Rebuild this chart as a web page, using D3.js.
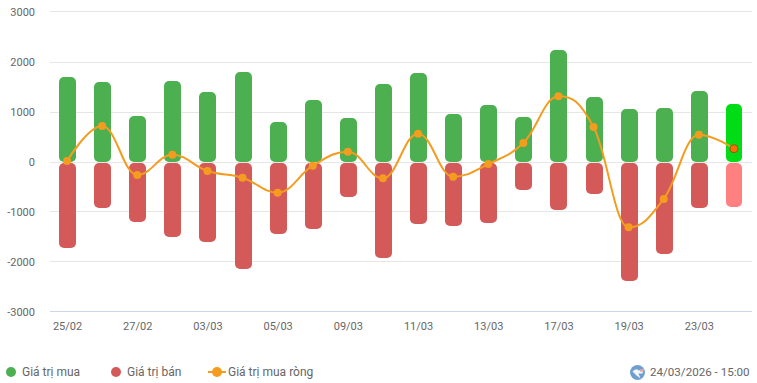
<!DOCTYPE html>
<html>
<head>
<meta charset="utf-8">
<script src="https://cdn.jsdelivr.net/npm/d3@7"></script>
<style>
  html, body { margin: 0; padding: 0; background: #fff; }
  svg { display: block; font-family: Roboto, sans-serif; }
</style>
</head>
<body>
<div id="chart"></div>
<script>
// ========= DATA =========
const days = ["25/02","26/02","27/02","02/03","03/03","04/03","05/03","06/03","09/03","10/03",
  "11/03","12/03","13/03","16/03","17/03","18/03","19/03","20/03","23/03","24/03"];
const buyValues = [1706,1606,926,1626,1406,1806,806,1246,886,1566,1786,966,1146,906,2246,1306,1066,1086,1426,1160];
const sellValues = [-1708,-914,-1194,-1494,-1594,-2134,-1434,-1334,-694,-1914,-1234,-1274,-1214,-554,-954,-634,-2370,-1840,-907,-900];
const netValues = [26,726,-254,152,-174,-308,-608,-68,212,-320,572,-288,-34,386,1320,706,-1300,-734,552,272];
const yTicks = [3000,2000,1000,0,-1000,-2000,-3000];
const legendNames = ["Giá trị mua","Giá trị bán","Giá trị mua ròng"];
const stamp = "24/03/2026 - 15:00";

const width = 757, height = 383;
const green = "#4caf50", red = "#d45a5a", orange = "#f39c1f", textColor = "#666666";

const svg = d3.select("#chart").append("svg").attr("width", width).attr("height", height);

const x = d3.scaleBand().domain(days).range([50, 752]);
const y = d3.scaleLinear().domain([-3000, 3000]).range([312.3, 12.3]);

// ========= GRID & AXES =========
// grid rows snap to whole pixels, top and negative lines land one row higher
const gridY = (d) => Math.floor(y(d)) - (d < 0 || d === 3000 ? 1 : 0) + 0.5;

svg.append("g").selectAll("line")
  .data(yTicks)
  .join("line")
  .attr("x1", 50).attr("x2", 752)
  .attr("y1", gridY)
  .attr("y2", gridY)
  .attr("stroke", (d) => (d === -3000 ? "#ccd6eb" : "#e6e6e6"));

svg.append("g").selectAll("text")
  .data(yTicks)
  .join("text")
  .attr("x", 35).attr("y", (d) => y(d) + 3.7)
  .attr("text-anchor", "end")
  .attr("fill", textColor)
  .style("font-size", "11px")
  .text((d) => d);

svg.append("g").selectAll("text")
  .data(days.filter((d, i) => i % 2 === 0))
  .join("text")
  .attr("x", (d) => x(d) + x.bandwidth() / 2)
  .attr("y", 330)
  .attr("text-anchor", "middle")
  .attr("fill", textColor)
  .style("font-size", "11px")
  .text((d) => d);

// ========= BARS =========
const barWidth = 17;
const lastDay = days[days.length - 1];
const zeroRow = Math.round(y(0));
// the hovered last day is drawn one pixel narrower
const widthOf = (d) => (d === lastDay ? barWidth - 1 : barWidth);

svg.append("g").selectAll("rect")
  .data(days)
  .join("rect")
  .attr("x", (d) => Math.round(x(d) + (x.bandwidth() - barWidth) / 2))
  .attr("width", widthOf)
  .attr("y", (d, i) => Math.round(y(buyValues[i])))
  .attr("height", (d, i) => zeroRow - Math.round(y(buyValues[i])))
  .attr("rx", 5)
  .attr("fill", (d) => (d === lastDay ? "#00dc16" : green));

svg.append("g").selectAll("rect")
  .data(days)
  .join("rect")
  .attr("x", (d) => Math.round(x(d) + (x.bandwidth() - barWidth) / 2))
  .attr("width", widthOf)
  .attr("y", zeroRow + 1)
  .attr("height", (d, i) => Math.round(y(sellValues[i])) - zeroRow - 1)
  .attr("rx", 5)
  .attr("fill", (d) => (d === lastDay ? "#ff8080" : red));

// ========= NET LINE =========
// spline with the same control point rule as the original chart library
function splineCurve(context) {
  const pts = [];
  return {
    areaStart() {}, areaEnd() {},
    lineStart() { pts.length = 0; },
    point(px, py) { pts.push([+px, +py]); },
    lineEnd() {
      const s = 1.5, den = 2.5;
      const conts = pts.map((p, i) => {
        if (i === 0 || i === pts.length - 1) return null;
        const a = pts[i - 1], b = pts[i + 1];
        const lx = (s * p[0] + a[0]) / den, rx = (s * p[0] + b[0]) / den;
        let ly = (s * p[1] + a[1]) / den, ry = (s * p[1] + b[1]) / den;
        const corr = ((ry - ly) * (rx - p[0])) / (rx - lx) + p[1] - ry;
        ly += corr; ry += corr;
        if (ly > Math.max(a[1], p[1])) { ly = Math.max(a[1], p[1]); ry = 2 * p[1] - ly; }
        else if (ly < Math.min(a[1], p[1])) { ly = Math.min(a[1], p[1]); ry = 2 * p[1] - ly; }
        if (ry > Math.max(b[1], p[1])) { ry = Math.max(b[1], p[1]); ly = 2 * p[1] - ry; }
        else if (ry < Math.min(b[1], p[1])) { ry = Math.min(b[1], p[1]); ly = 2 * p[1] - ry; }
        return { lx, ly, rx, ry };
      });
      context.moveTo(pts[0][0], pts[0][1]);
      for (let i = 1; i < pts.length; i++) {
        const c1 = conts[i - 1] ? [conts[i - 1].rx, conts[i - 1].ry] : pts[i - 1];
        const c2 = conts[i] ? [conts[i].lx, conts[i].ly] : pts[i];
        context.bezierCurveTo(c1[0], c1[1], c2[0], c2[1], pts[i][0], pts[i][1]);
      }
    },
  };
}

const netX = (d) => x(d) + x.bandwidth() / 2 - 0.5;

const line = d3.line()
  .x((d) => netX(d))
  .y((d, i) => y(netValues[i]))
  .curve(splineCurve);

svg.append("path")
  .attr("d", line(days))
  .attr("fill", "none")
  .attr("stroke", orange)
  .attr("stroke-width", 2);

svg.append("g").selectAll("circle")
  .data(days)
  .join("circle")
  .attr("cx", (d) => netX(d))
  .attr("cy", (d, i) => y(netValues[i]))
  .attr("r", 4)
  .attr("fill", (d) => (d === lastDay ? "#ff6f00" : orange))
  .attr("stroke", (d) => (d === lastDay ? "#8a5a1e" : "none"))
  .attr("stroke-width", 1);

// ========= LEGEND =========
const legendY = 372;
const legend = svg.append("g");

legend.append("circle").attr("cx", 11).attr("cy", legendY).attr("r", 5).attr("fill", green);
legend.append("circle").attr("cx", 116).attr("cy", legendY).attr("r", 5).attr("fill", red);
legend.append("line")
  .attr("x1", 208).attr("x2", 226).attr("y1", legendY).attr("y2", legendY)
  .attr("stroke", orange).attr("stroke-width", 2);
legend.append("circle").attr("cx", 217).attr("cy", legendY).attr("r", 5).attr("fill", orange);

legend.selectAll("text")
  .data(legendNames)
  .join("text")
  .attr("x", (d, i) => [22, 127, 228][i])
  .attr("y", legendY + 4)
  .attr("fill", textColor)
  .style("font-size", "12px")
  .text((d) => d);

// ========= TIME STAMP =========
const globe = svg.append("g").attr("transform", "translate(637.5,372.5)");
globe.append("circle").attr("r", 7.5).attr("fill", "#6f9fd0");
globe.append("path")
  .attr("d", "M-5,-1 Q-1,-5 1,-2 L6,-3 L5,1 L1,1 L3,6 L-1,3 L-3,1 Z")
  .attr("fill", "#f2f5f9");
globe.append("path")
  .attr("d", "M2,-3 L6,-3.5 L5,-0.5 L3,-0.5 Z")
  .attr("fill", "#e8a5b0");

svg.append("text")
  .attr("x", 650).attr("y", legendY + 4)
  .attr("fill", textColor)
  .style("font-size", "11.6px")
  .text(stamp);
</script>
</body>
</html>
